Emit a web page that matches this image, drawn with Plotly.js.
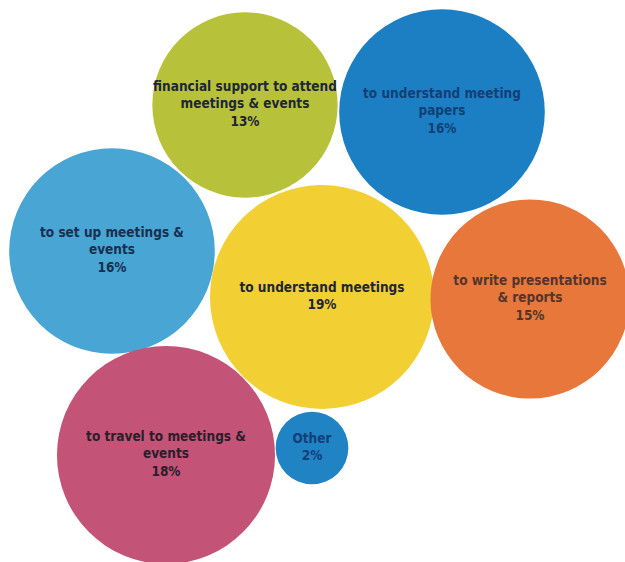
<!DOCTYPE html>
<html><head><meta charset="utf-8">
<script src="https://cdn.plot.ly/plotly-3.0.1.min.js"></script>
<style>html,body{margin:0;padding:0;background:#fff}</style>
</head><body>
<div id="chart" style="width:625px;height:562px"></div>
<script>
// Data
var categories = [
  "financial support to attend<br>meetings & events",
  "to understand meeting<br>papers",
  "to set up meetings &<br>events",
  "to understand meetings",
  "to write presentations<br>& reports",
  "to travel to meetings &<br>events",
  "Other"
];
var shares = [13, 16, 16, 19, 15, 18, 2];
// bubble layout positions (packing layout, in plot units)
var bubbleX = [245, 442, 112, 322, 530, 166, 312];
var bubbleY = [105, 112, 251, 297, 299, 455, 448];
var colors = ["#b7c23a", "#1c7fc3", "#48a5d4", "#f2cf32", "#e8773b", "#c35478", "#2083c4"];
var textColors = ["#1e2638", "#123f78", "#17304f", "#1e2638", "#53352e", "#2a1e2a", "#123f78"];

var labels = categories.map(function(c, i){ return c + "<br>" + shares[i] + "%"; });

var trace = {
  type: "scatter",
  mode: "markers+text",
  x: bubbleX,
  y: bubbleY,
  text: labels,
  textposition: "middle center",
  textfont: {family: "DejaVu Sans Condensed", size: 13.5, weight: "bold", color: textColors},
  marker: {
    size: shares,
    sizemode: "area",
    sizeref: 2 / (51.4 * 51.4),
    color: colors,
    opacity: 1,
    line: {width: 0}
  },
  hoverinfo: "skip"
};

var layout = {
  width: 625, height: 562,
  margin: {l: 0, r: 0, t: 0, b: 0},
  paper_bgcolor: "#ffffff",
  plot_bgcolor: "#ffffff",
  showlegend: false,
  xaxis: {range: [0, 625], visible: false, fixedrange: true},
  yaxis: {range: [562, 0], visible: false, fixedrange: true}
};

Plotly.newPlot("chart", [trace], layout, {displayModeBar: false, staticPlot: true});
</script>
</body></html>
